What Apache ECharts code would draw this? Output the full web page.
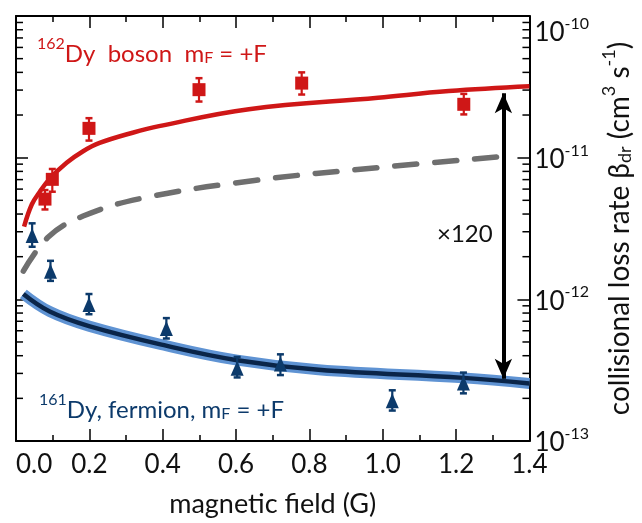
<!DOCTYPE html>
<html><head><meta charset="utf-8">
<script src="https://cdn.jsdelivr.net/npm/echarts@6/dist/echarts.min.js"></script>
<style>html,body{margin:0;padding:0;background:#fff}#c{width:642px;height:523px}</style>
</head><body><div id="c"></div>
<script>
// ---- data ----
const bosonX   = [0.079, 0.099, 0.199, 0.499, 0.779, 1.221];
const bosonY   = [5.10e-12, 7.03e-12, 1.61e-11, 3.02e-11, 3.36e-11, 2.38e-11];
const bosonLo  = [4.31e-12, 5.75e-12, 1.32e-11, 2.49e-11, 2.79e-11, 2.02e-11];
const bosonHi  = [5.91e-12, 8.32e-12, 1.90e-11, 3.64e-11, 4.00e-11, 2.82e-11];

const fermX    = [0.044, 0.094, 0.199, 0.410, 0.603, 0.721, 1.026, 1.220];
const fermY    = [2.82e-12, 1.58e-12, 9.20e-13, 6.23e-13, 3.26e-13, 3.49e-13, 1.92e-13, 2.57e-13];
const fermLo   = [2.35e-12, 1.35e-12, 7.85e-13, 5.29e-13, 2.81e-13, 2.92e-13, 1.64e-13, 2.17e-13];
const fermHi   = [3.44e-12, 1.87e-12, 1.09e-12, 7.37e-13, 3.92e-13, 4.09e-13, 2.28e-13, 3.04e-13];

const redCurveX  = [0.022, 0.043, 0.065, 0.092, 0.138, 0.183, 0.228, 0.318, 0.39, 0.635, 0.987, 1.18, 1.4];
const redCurveY  = [3.26e-12, 4.67e-12, 5.75e-12, 7.1e-12, 9.2e-12, 1.11e-11, 1.27e-11, 1.5e-11, 1.67e-11, 2.2e-11, 2.65e-11, 2.95e-11, 3.19e-11];
const grayCurveX = [0.02, 0.088, 0.183, 0.345, 0.65, 0.987, 1.35];
const grayCurveY = [1.58e-12, 2.75e-12, 3.87e-12, 5.18e-12, 6.9e-12, 8.5e-12, 1.03e-11];
const blueCurveX = [0.02, 0.092, 0.199, 0.409, 0.603, 0.825, 1.22, 1.4];
const blueCurveY = [1.09e-12, 8.2e-13, 6.47e-13, 4.71e-13, 3.72e-13, 3.18e-13, 2.79e-13, 2.55e-13];

const arrowX = 1.329, arrowTop = 2.85e-11, arrowBottom = 2.75e-13;
const xTickLabels = ['0.0','0.2','0.4','0.6','0.8','1.0','1.2','1.4'];
const yDecades = [-13, -12, -11, -10];
const minorMult = [2,3,4,5,6,7,8,9];

// ---- build ----
const FONT = 'Lato';
const RED = '#cf1717', NAVY = '#0c3a6b', BLUE_DARK = '#0a2549', BLUE_LIGHT = '#5f93d3', GRAY = '#6f6f6f';
const zip = (a, b) => a.map((v, i) => [v, b[i]]);
const zip3 = (a, b, c) => a.map((v, i) => [v, b[i], c[i]]);

const minorTicks = [];
for (let i = 0; i < yDecades.length - 1; i++) for (const m of minorMult) minorTicks.push([0, m * Math.pow(10, yDecades[i])]);

function errRender(color) {
  return function (params, api) {
    const x = api.value(0), lo = api.value(1), hi = api.value(2);
    const a = api.coord([x, hi]), b = api.coord([x, lo]);
    const cw = 3.5, st = {stroke: color, lineWidth: 2.2};
    return {type: 'group', children: [
      {type: 'line', shape: {x1: a[0], y1: a[1], x2: b[0], y2: b[1]}, style: st},
      {type: 'line', shape: {x1: a[0]-cw, y1: a[1], x2: a[0]+cw, y2: a[1]}, style: {stroke: color, lineWidth: 2.5}},
      {type: 'line', shape: {x1: b[0]-cw, y1: b[1], x2: b[0]+cw, y2: b[1]}, style: {stroke: color, lineWidth: 2.5}}
    ]};
  };
}

const chart = echarts.init(document.getElementById('c'), null, {renderer: 'canvas'});
const axisLineStyle = {color: '#000', width: 2};
const option = {
  animation: false,
  textStyle: {fontFamily: FONT},
  grid: {left: 16, right: 110, top: 16, bottom: 70, containLabel: false},
  xAxis: [{
    type: 'value', min: 0, max: 1.4, interval: 0.2, position: 'bottom',
    axisLine: {show: true, onZero: false, lineStyle: axisLineStyle},
    axisTick: {show: true, inside: true, length: 12, lineStyle: {color: '#000', width: 1.5}},
    minorTick: {show: true, splitNumber: 2, length: 6, lineStyle: {color: '#000', width: 1.5}},
    splitLine: {show: false},
    axisLabel: {show: true, margin: 11, fontSize: 26, color: '#111', fontFamily: FONT,
      formatter: v => xTickLabels[Math.round(v / 0.2)] || '', alignMinLabel: 'left'},
    name: 'magnetic field (G)', nameLocation: 'middle', nameGap: 50,
    nameTextStyle: {fontSize: 27, color: '#111', fontFamily: FONT}
  }, {
    type: 'value', min: 0, max: 1.4, interval: 0.2, position: 'top',
    axisLine: {show: true, onZero: false, lineStyle: axisLineStyle},
    axisTick: {show: true, inside: true, length: 12, lineStyle: {color: '#000', width: 1.5}},
    minorTick: {show: true, splitNumber: 2, length: 6, lineStyle: {color: '#000', width: 1.5}},
    splitLine: {show: false}, axisLabel: {show: false}
  }],
  yAxis: [{
    type: 'log', logBase: 10, min: 1e-13, max: 1e-10, position: 'right',
    axisLine: {show: true, onZero: false, lineStyle: axisLineStyle},
    axisTick: {show: true, inside: true, length: 12, lineStyle: {color: '#000', width: 1.5}},
    splitLine: {show: false},
    axisLabel: {show: true, margin: 5, color: '#111', verticalAlignMaxLabel: 'top',
      formatter: v => '{b|10}{s|' + Math.round(Math.log10(v)) + '}',
      rich: {b: {fontSize: 26, fontFamily: FONT, color: '#111', verticalAlign: 'bottom', lineHeight: 30},
             s: {fontSize: 16, fontFamily: FONT, color: '#111', verticalAlign: 'top', lineHeight: 14}}},
    name: '{n|collisional loss rate β}{sub|dr}{n| (cm}{sup|3}{n| s}{sup|-1}{n|)}',
    nameLocation: 'middle', nameRotate: 90, nameGap: 60,
    nameTextStyle: {rich: {
      n: {fontSize: 28, fontFamily: FONT, color: '#111', verticalAlign: 'bottom', lineHeight: 34},
      sub: {fontSize: 18, fontFamily: FONT, color: '#111', verticalAlign: 'bottom', lineHeight: 29},
      sup: {fontSize: 18, fontFamily: FONT, color: '#111', verticalAlign: 'top', lineHeight: 16}}}
  }, {
    type: 'log', logBase: 10, min: 1e-13, max: 1e-10, position: 'left',
    axisLine: {show: true, onZero: false, lineStyle: axisLineStyle},
    axisTick: {show: true, inside: true, length: 12, lineStyle: {color: '#000', width: 1.5}},
    splitLine: {show: false}, axisLabel: {show: false}
  }],
  series: [
    {type: 'custom', name: 'minorTicks', xAxisIndex: 0, yAxisIndex: 0, silent: true, clip: false,
     data: minorTicks,
     renderItem: function (params, api) {
       const v = api.value(1);
       const pl = api.coord([0, v]), pr = api.coord([1.4, v]);
       const st = {stroke: '#000', lineWidth: 1.5};
       return {type: 'group', children: [
         {type: 'line', shape: {x1: pl[0], y1: pl[1], x2: pl[0] + 7, y2: pl[1]}, style: st},
         {type: 'line', shape: {x1: pr[0] - 7, y1: pr[1], x2: pr[0], y2: pr[1]}, style: st}
       ]};
     }},
    {type: 'line', name: 'gray', data: zip(grayCurveX, grayCurveY), smooth: 0.4, showSymbol: false,
     lineStyle: {color: GRAY, width: 5.5, type: [22, 18], cap: 'round'}, z: 2},
    {type: 'line', name: 'blueBand', data: zip(blueCurveX, blueCurveY), smooth: 0.4, showSymbol: false,
     lineStyle: {color: BLUE_LIGHT, width: 11}, z: 2},
    {type: 'line', name: 'blueLine', data: zip(blueCurveX, blueCurveY), smooth: 0.4, showSymbol: false,
     lineStyle: {color: BLUE_DARK, width: 4.5}, z: 3},
    {type: 'line', name: 'red', data: zip(redCurveX, redCurveY), smooth: 0.4, showSymbol: false,
     lineStyle: {color: RED, width: 4.5}, z: 3,
     markLine: {silent: true, symbol: ['arrow', 'arrow'], symbolSize: [13, 20], label: {show: false},
       lineStyle: {color: '#000', width: 4, type: 'solid'},
       data: [[{coord: [arrowX, arrowTop]}, {coord: [arrowX, arrowBottom]}]]}},
    {type: 'custom', name: 'bosonErr', data: zip3(bosonX, bosonLo, bosonHi), renderItem: errRender(RED), z: 4,
     encode: {x: 0, y: [1, 2]}},
    {type: 'custom', name: 'fermErr', data: zip3(fermX, fermLo, fermHi), renderItem: errRender(NAVY), z: 4,
     encode: {x: 0, y: [1, 2]}},
    {type: 'scatter', name: 'boson', data: zip(bosonX, bosonY), symbol: 'rect', symbolSize: [13, 13],
     itemStyle: {color: RED, opacity: 1}, z: 5},
    {type: 'scatter', name: 'fermion', data: zip(fermX, fermY), symbol: 'triangle', symbolSize: [13, 15],
     itemStyle: {color: NAVY, opacity: 1}, z: 5}
  ],
  graphic: [
    {type: 'text', left: 37, top: 36, z: 10, style: {
      text: '{sup|162}{n|Dy  boson  m}{sub|F}{n| = +F}',
      rich: {n: {fontSize: 24, fontFamily: FONT, fill: RED, verticalAlign: 'bottom', lineHeight: 30},
             sup: {fontSize: 16, fontFamily: FONT, fill: RED, verticalAlign: 'top', lineHeight: 14},
             sub: {fontSize: 16, fontFamily: FONT, fill: RED, verticalAlign: 'bottom', lineHeight: 26}}}},
    {type: 'text', left: 39, top: 392, z: 10, style: {
      text: '{sup|161}{n|Dy, fermion, m}{sub|F}{n| = +F}',
      rich: {n: {fontSize: 24, fontFamily: FONT, fill: NAVY, verticalAlign: 'bottom', lineHeight: 30},
             sup: {fontSize: 16, fontFamily: FONT, fill: NAVY, verticalAlign: 'top', lineHeight: 14},
             sub: {fontSize: 16, fontFamily: FONT, fill: NAVY, verticalAlign: 'bottom', lineHeight: 26}}}},
    {type: 'text', left: 437, top: 222, z: 10, style: {text: '×120', fontSize: 24, fontFamily: FONT, fill: '#111'}}
  ]
};
chart.setOption(option);
</script></body></html>
